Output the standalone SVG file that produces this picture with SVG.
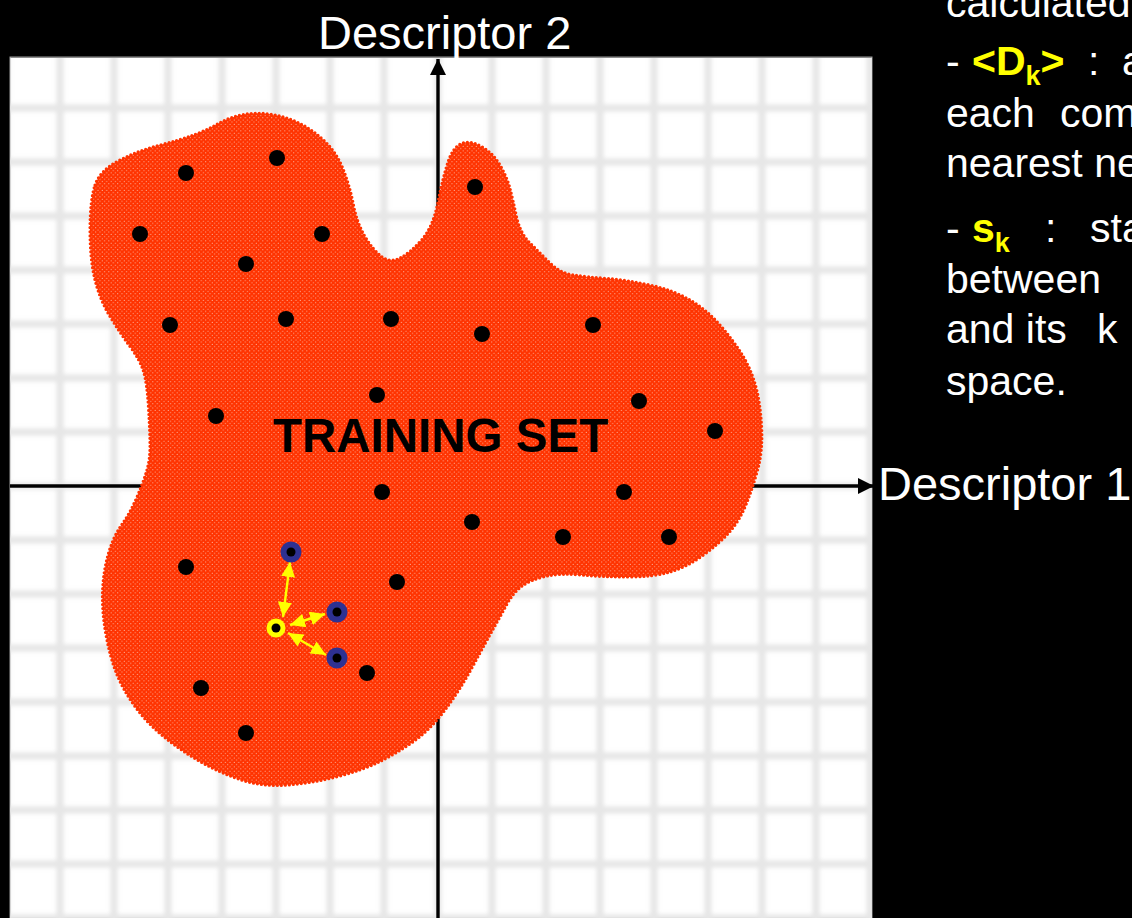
<svg xmlns="http://www.w3.org/2000/svg" width="1132" height="918" viewBox="0 0 1132 918">
  <style>
    .label { font-family: "Liberation Sans", Arial, sans-serif; fill: #ffffff; }
    .axis-title { font-size: 47px; }
    .body { font-size: 41px; }
    .key { font-weight: bold; fill: #ffff00; }
    .sub { font-size: 27px; }
    .grid line { stroke: #e6e6e6; stroke-width: 7; }
    .axis { stroke: #000000; stroke-width: 3.4; fill: none; }
    .pt { fill: #000000; }
    .nb { fill: #2e3192; }
    .q { fill: #ffff00; }
    .link { stroke: #ffff00; stroke-width: 2.4; fill: none; }
  </style>
  <defs>
    <pattern id="halftone" width="4.4" height="4.4" patternUnits="userSpaceOnUse">
      <rect width="4.4" height="4.4" fill="#ff3300"/>
      <circle cx="1.1" cy="1.1" r="0.5" fill="#fff0ea"/>
      <circle cx="3.3" cy="3.3" r="0.5" fill="#fff0ea"/>
    </pattern>
    <clipPath id="plotClip">
      <rect x="10" y="58" width="862" height="860"/>
    </clipPath>
    <filter id="soft" x="-5%" y="-5%" width="110%" height="110%">
      <feGaussianBlur stdDeviation="2"/>
    </filter>
    <marker id="axisHead" viewBox="0 0 16 16" markerWidth="16" markerHeight="16" refX="16" refY="8" orient="auto" markerUnits="userSpaceOnUse">
      <path d="M0,0 L16,8 L0,16 z" fill="#000000"/>
    </marker>
    <marker id="linkHead" viewBox="0 0 15 14" markerWidth="15" markerHeight="14" refX="15" refY="7" orient="auto-start-reverse" markerUnits="userSpaceOnUse">
      <path d="M0,0 L15,7 L0,14 z" fill="#ffff00"/>
    </marker>
  </defs>

  <!-- page -->
  <rect x="0" y="0" width="1132" height="918" fill="#000000"/>

  <!-- plot area with soft grid -->
  <g id="plot">
    <rect x="10" y="57" width="862" height="861" fill="#ffffff" stroke="#9c9c9c" stroke-width="1"/>
    <g clip-path="url(#plotClip)">
      <g class="grid" filter="url(#soft)">
        <line x1="6" y1="40" x2="6" y2="930"/>
        <line x1="60" y1="40" x2="60" y2="930"/>
        <line x1="114" y1="40" x2="114" y2="930"/>
        <line x1="168" y1="40" x2="168" y2="930"/>
        <line x1="222" y1="40" x2="222" y2="930"/>
        <line x1="276" y1="40" x2="276" y2="930"/>
        <line x1="330" y1="40" x2="330" y2="930"/>
        <line x1="384" y1="40" x2="384" y2="930"/>
        <line x1="438" y1="40" x2="438" y2="930"/>
        <line x1="492" y1="40" x2="492" y2="930"/>
        <line x1="546" y1="40" x2="546" y2="930"/>
        <line x1="600" y1="40" x2="600" y2="930"/>
        <line x1="654" y1="40" x2="654" y2="930"/>
        <line x1="708" y1="40" x2="708" y2="930"/>
        <line x1="762" y1="40" x2="762" y2="930"/>
        <line x1="816" y1="40" x2="816" y2="930"/>
        <line x1="870" y1="40" x2="870" y2="930"/>
        <line x1="0" y1="108" x2="880" y2="108"/>
        <line x1="0" y1="162" x2="880" y2="162"/>
        <line x1="0" y1="216" x2="880" y2="216"/>
        <line x1="0" y1="270" x2="880" y2="270"/>
        <line x1="0" y1="324" x2="880" y2="324"/>
        <line x1="0" y1="378" x2="880" y2="378"/>
        <line x1="0" y1="432" x2="880" y2="432"/>
        <line x1="0" y1="486" x2="880" y2="486"/>
        <line x1="0" y1="540" x2="880" y2="540"/>
        <line x1="0" y1="594" x2="880" y2="594"/>
        <line x1="0" y1="648" x2="880" y2="648"/>
        <line x1="0" y1="702" x2="880" y2="702"/>
        <line x1="0" y1="756" x2="880" y2="756"/>
        <line x1="0" y1="810" x2="880" y2="810"/>
        <line x1="0" y1="864" x2="880" y2="864"/>
        <line x1="0" y1="918" x2="880" y2="918"/>
      </g>
    </g>
    <line x1="10.5" y1="57.5" x2="871.5" y2="57.5" stroke="#8c8c8c" stroke-width="1"/>
  </g>

  <!-- axes -->
  <g id="axes">
    <line class="axis" x1="438" y1="918" x2="438" y2="59" marker-end="url(#axisHead)"/>
    <line class="axis" x1="10" y1="486" x2="874" y2="486" marker-end="url(#axisHead)"/>
  </g>

  <!-- training set region -->
  <g id="training-set">
    <path fill="url(#halftone)" stroke="#ff3300" stroke-width="3.2" stroke-dasharray="0 4" stroke-linecap="round"
      d="M 95,185 Q 100,170 120,160 Q 140,150 160,145 Q 180,140 193.5,135 Q 207,130 218.5,123.5 Q 230,117 243.5,114.5 Q 257,112 272,114.5 Q 287,117 300,123.5 Q 313,130 325,141.5 Q 337,153 343.5,170 Q 350,187 353.5,205 Q 357,223 365,236.5 Q 373,250 381.5,256.5 Q 390,263 400,258 Q 410,253 421.5,240 Q 433,227 438,202 Q 443,177 448,162 Q 453,147 461.5,143.5 Q 470,140 481.5,146.5 Q 493,153 500,165 Q 507,177 510,188.5 Q 513,200 516.5,216.5 Q 520,233 530,243 Q 540,253 550,263 Q 560,273 573.5,275 Q 587,277 607,278.5 Q 627,280 650,285 Q 673,290 690,300 Q 707,310 720,325 Q 733,340 741.5,353.5 Q 750,367 755,383.5 Q 760,400 761.5,425 Q 763,450 758,468.5 Q 753,487 746.5,503.5 Q 740,520 730,531.5 Q 720,543 703.5,555 Q 687,567 670,572 Q 653,577 628,577 Q 603,577 581.5,575 Q 560,573 545,576.5 Q 530,580 521.5,586.5 Q 513,593 506.5,605 Q 500,617 493.5,628.5 Q 487,640 473.5,665 Q 460,690 445,710 Q 430,730 413.5,741.5 Q 397,753 380,761.5 Q 363,770 338,776.5 Q 313,783 288,785 Q 263,787 241.5,780 Q 220,773 200,761.5 Q 180,750 163.5,736.5 Q 147,723 135,706.5 Q 123,690 116.5,673.5 Q 110,657 106,635 Q 102,613 102.5,593 Q 103,573 108,555 Q 113,537 121.5,525 Q 130,513 136.5,498 Q 143,483 146.5,471.5 Q 150,460 150,446.5 Q 150,433 148.5,408 Q 147,383 143.5,371.5 Q 140,360 130,346.5 Q 120,333 110,316.5 Q 100,300 95,280 Q 90,260 90,230 Q 90,200 95,185 Z"/>
    <text x="273" y="452" font-family="Liberation Sans, Arial, sans-serif" font-size="47.5" font-weight="bold" fill="#000000">TRAINING SET</text>
  </g>

  <!-- training compounds -->
  <g id="compounds">
    <circle id="c01" class="pt" cx="186" cy="173" r="8"/>
    <circle id="c02" class="pt" cx="277" cy="158" r="8"/>
    <circle id="c03" class="pt" cx="140" cy="234" r="8"/>
    <circle id="c04" class="pt" cx="322" cy="234" r="8"/>
    <circle id="c05" class="pt" cx="246" cy="264" r="8"/>
    <circle id="c06" class="pt" cx="475" cy="187" r="8"/>
    <circle id="c07" class="pt" cx="170" cy="325" r="8"/>
    <circle id="c08" class="pt" cx="286" cy="319" r="8"/>
    <circle id="c09" class="pt" cx="391" cy="319" r="8"/>
    <circle id="c10" class="pt" cx="482" cy="334" r="8"/>
    <circle id="c11" class="pt" cx="593" cy="325" r="8"/>
    <circle id="c12" class="pt" cx="377" cy="395" r="8"/>
    <circle id="c13" class="pt" cx="216" cy="416" r="8"/>
    <circle id="c14" class="pt" cx="639" cy="401" r="8"/>
    <circle id="c15" class="pt" cx="715" cy="431" r="8"/>
    <circle id="c16" class="pt" cx="382" cy="492" r="8"/>
    <circle id="c17" class="pt" cx="624" cy="492" r="8"/>
    <circle id="c18" class="pt" cx="472" cy="522" r="8"/>
    <circle id="c19" class="pt" cx="563" cy="537" r="8"/>
    <circle id="c20" class="pt" cx="669" cy="537" r="8"/>
    <circle id="c21" class="pt" cx="186" cy="567" r="8"/>
    <circle id="c22" class="pt" cx="397" cy="582" r="8"/>
    <circle id="c23" class="pt" cx="367" cy="673" r="8"/>
    <circle id="c24" class="pt" cx="201" cy="688" r="8"/>
    <circle id="c25" class="pt" cx="246" cy="733" r="8"/>
  </g>

  <!-- distances from the compound to its k nearest neighbours -->
  <g id="connectors">
    <line class="link" x1="283" y1="617" x2="290" y2="562" marker-start="url(#linkHead)" marker-end="url(#linkHead)"/>
    <line class="link" x1="290" y1="625" x2="325" y2="614" marker-start="url(#linkHead)" marker-end="url(#linkHead)"/>
    <line class="link" x1="288" y1="633" x2="326" y2="655" marker-start="url(#linkHead)" marker-end="url(#linkHead)"/>
  </g>

  <g id="neighbour-1">
    <circle class="nb" cx="291" cy="552" r="10.5"/>
    <circle class="pt" cx="291" cy="552" r="4.5"/>
  </g>
  <g id="neighbour-2">
    <circle class="nb" cx="337" cy="612" r="10.5"/>
    <circle class="pt" cx="337" cy="612" r="4.5"/>
  </g>
  <g id="neighbour-3">
    <circle class="nb" cx="337" cy="658" r="10.5"/>
    <circle class="pt" cx="337" cy="658" r="4.5"/>
  </g>
  <g id="query">
    <circle class="q" cx="276" cy="628" r="9.5"/>
    <circle class="pt" cx="276" cy="628" r="4.5"/>
  </g>

  <!-- axis titles -->
  <text class="label axis-title" x="318" y="49">Descriptor 2</text>
  <text class="label axis-title" x="878" y="500">Descriptor 1</text>

  <!-- definitions -->
  <g id="notes" class="label body">
    <text x="946" y="17">calculated</text>
    <text x="946" y="75">- <tspan x="972" class="key">&lt;D</tspan><tspan class="key sub" dy="10">k</tspan><tspan class="key" dy="-10">&gt;</tspan><tspan x="1088">:</tspan><tspan x="1122">a</tspan></text>
    <text x="946" y="127">each<tspan x="1060">com</tspan></text>
    <text x="946" y="177">nearest ne</text>
    <text x="946" y="242">- <tspan x="972" class="key">s</tspan><tspan class="key sub" dy="10">k</tspan><tspan x="1045" dy="-10">:</tspan><tspan x="1090">sta</tspan></text>
    <text x="946" y="293">between</text>
    <text x="946" y="343">and its<tspan x="1097">k</tspan></text>
    <text x="946" y="395">space.</text>
  </g>
</svg>
